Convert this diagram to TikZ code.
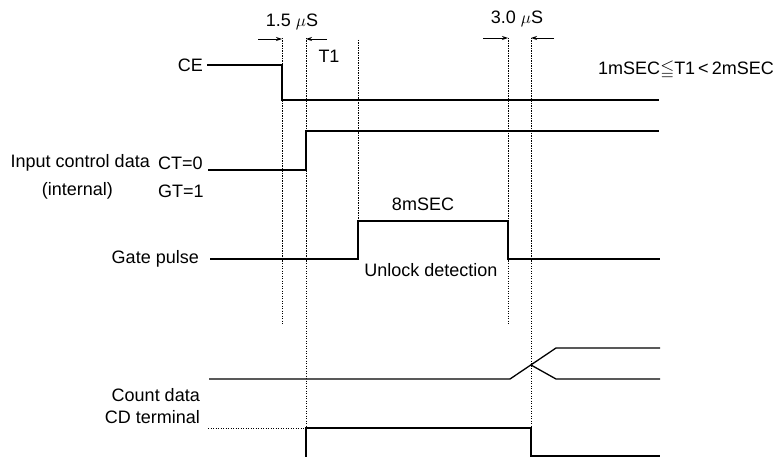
\documentclass[tikz,border=0pt]{standalone}
\usepackage{amssymb}
\usepackage{fontspec}
\setmainfont{Liberation Sans}
\usepackage{tikz}
\usetikzlibrary{arrows.meta}

\begin{document}
\begin{tikzpicture}[x=1pt, y=-1pt,
    signal/.style={line width=1.3pt},
    guide/.style={line width=1pt, dash pattern=on 1.2pt off 1.3pt},
    dimarrow/.style={-{Stealth[length=6pt, width=4pt]}, line width=0.9pt},
    lbl/.style={inner sep=0pt, font=\fontsize{18}{20}\selectfont}
]
  \useasboundingbox (0,0) rectangle (773,457);

  % Zeitmarken oben
  \node[lbl] (t15) at (292,22) {1.5 $\mu$S};
  \node[lbl] (t30) at (517,19) {3.0 $\mu$S};
  \node[lbl] (tone) at (329,56) {T1};
  \node[lbl] (cond) at (686,70) {1mSEC$\leqq$T1\,<\,2mSEC};
  \draw[dimarrow] (258,39) -- (282,39);
  \draw[dimarrow] (327,39) -- (306,39);
  \draw[dimarrow] (483,38) -- (508,38);
  \draw[dimarrow] (554,38) -- (531,38);

  % Hilfslinien (punktiert)
  \draw[guide] (282,38) -- (282,325);
  \draw[guide] (306,38) -- (306,428);
  \draw[guide] (358,40) -- (358,259);
  \draw[guide] (508,38) -- (508,325);
  \draw[guide] (531,38) -- (531,428);

  % CE
  \node[lbl, anchor=east] (lce) at (203,65) {CE};
  \draw[signal] (207,65) -- (282,65) -- (282,100) -- (659,100);

  % Input control data
  \node[lbl, anchor=east] (lin) at (150,163) {Input control data};
  \node[lbl, anchor=east] (lint) at (113,191) {(internal)};
  \node[lbl, anchor=west] (lct) at (158,163) {CT=0};
  \node[lbl, anchor=west] (lgt) at (158,191) {GT=1};
  \draw[signal] (208,170) -- (306,170) -- (306,131) -- (659,131);

  % Gate pulse
  \node[lbl, anchor=east] (lgate) at (199,259) {Gate pulse};
  \node[lbl] (teight) at (423,204) {8mSEC};
  \node[lbl] (lunlock) at (431,270) {Unlock detection};
  \draw[signal] (210,259) -- (358,259) -- (358,221) -- (508,221) -- (508,259) -- (660,259);

  % Count data
  \node[lbl, anchor=east] (lcount) at (200,395) {Count data};
  \draw[signal] (209,379) -- (510,379) -- (556,348) -- (660,348);
  \draw[signal] (531,365) -- (556,379) -- (660,379);

  % CD terminal
  \node[lbl, anchor=east] (lcd) at (200,417) {CD terminal};
  \draw[guide] (208,428) -- (306,428);
  \draw[signal] (306,457) -- (306,428) -- (531,428) -- (531,457);
  \draw[signal] (531,456) -- (660,456);

\end{tikzpicture}
\end{document}
